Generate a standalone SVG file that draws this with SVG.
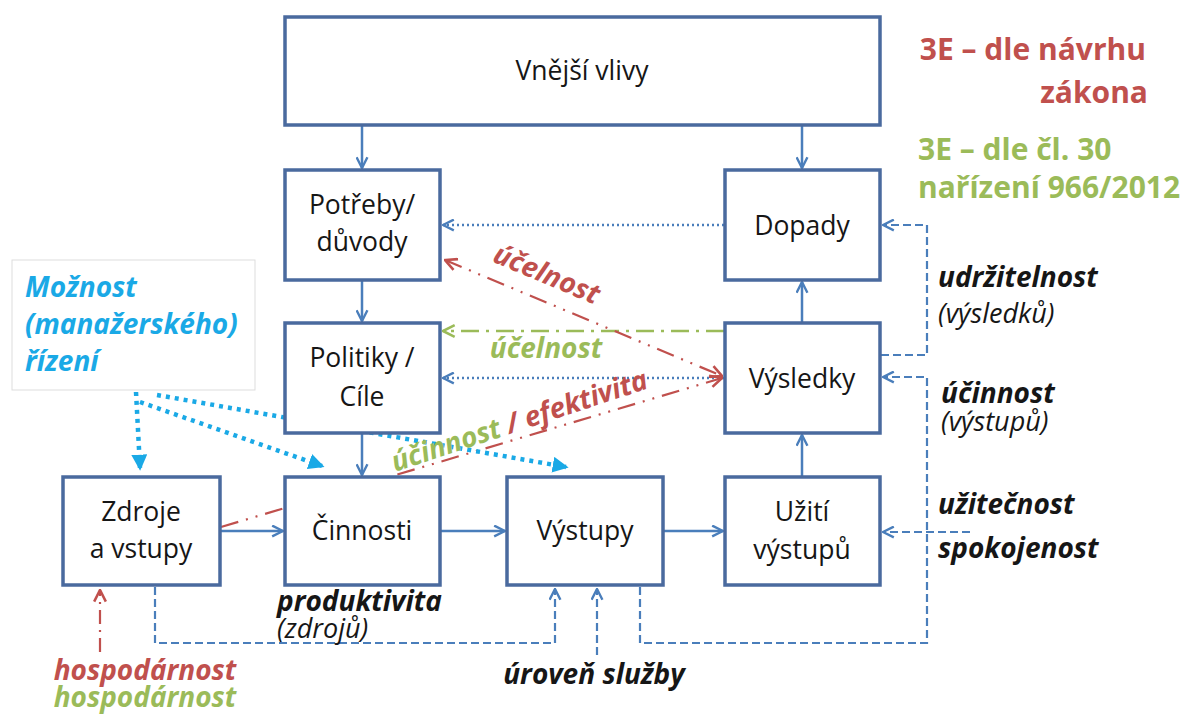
<svg xmlns="http://www.w3.org/2000/svg" width="1188" height="715" viewBox="0 0 1188 715">
<style>
.box{fill:#fff;stroke:#4a6a9e;stroke-width:3.5}
.t{font-family:"Open Sans",Lato,sans-serif;font-size:26.5px;fill:#161616;text-anchor:middle}
.sol{stroke:#4a7ebb;stroke-width:2.5;fill:none}
.dot{stroke:#4a7ebb;stroke-width:2.5;fill:none;stroke-dasharray:2 3}
.dash{stroke:#4a7ebb;stroke-width:2.2;fill:none;stroke-dasharray:8 4}
.red{stroke:#c0504d;stroke-width:2.2;fill:none;stroke-dasharray:18 8 2 8 2 8}
.grn{stroke:#9bbb59;stroke-width:2.5;fill:none;stroke-dasharray:18 7 3 7}
.cy{stroke:#1aa9e6;stroke-width:4.5;fill:none;stroke-dasharray:4 5}
.bi{font-family:"Open Sans",Lato,sans-serif;font-weight:bold;font-style:italic;font-size:28px}
.it{font-family:"Open Sans",Lato,sans-serif;font-style:italic;font-size:27px}
.b{font-family:"Open Sans",Lato,sans-serif;font-weight:bold;font-size:30px}
</style>
<defs>
<marker id="ab" viewBox="0 0 12 12" refX="11" refY="6" markerWidth="13" markerHeight="13" markerUnits="userSpaceOnUse" orient="auto-start-reverse"><path d="M1,1 L11,6 L1,11" fill="none" stroke="#4a7ebb" stroke-width="2.2"/></marker>
<marker id="ar" viewBox="0 0 12 12" refX="11" refY="6" markerWidth="14" markerHeight="14" markerUnits="userSpaceOnUse" orient="auto-start-reverse"><path d="M1,1 L11,6 L1,11" fill="none" stroke="#c0504d" stroke-width="2.2"/></marker>
<marker id="ag" viewBox="0 0 12 12" refX="11" refY="6" markerWidth="14" markerHeight="14" markerUnits="userSpaceOnUse" orient="auto-start-reverse"><path d="M1,1 L11,6 L1,11" fill="none" stroke="#9bbb59" stroke-width="2.2"/></marker>
<marker id="ac" viewBox="0 0 12 12" refX="10" refY="6" markerWidth="16" markerHeight="16" markerUnits="userSpaceOnUse" orient="auto"><path d="M0,0 L12,6 L0,12 Z" fill="#1aa9e6"/></marker>
</defs>
<rect width="1188" height="715" fill="#fff"/>

<g id="connectors">
<path class="sol" d="M362,126 V168" marker-end="url(#ab)"/>
<path class="sol" d="M802,126 V168" marker-end="url(#ab)"/>
<path class="sol" d="M362,281 V321" marker-end="url(#ab)"/>
<path class="sol" d="M362,434 V475" marker-end="url(#ab)"/>
<path class="sol" d="M221,531 H283" marker-end="url(#ab)"/>
<path class="sol" d="M441,531 H505" marker-end="url(#ab)"/>
<path class="sol" d="M664,531 H723" marker-end="url(#ab)"/>
<path class="sol" d="M802,476 V435" marker-end="url(#ab)"/>
<path class="sol" d="M802,322 V282" marker-end="url(#ab)"/>
<path class="dot" d="M724,225 H443" marker-end="url(#ab)"/>
<path class="dot" d="M724,378 H443" marker-end="url(#ab)"/>
<path class="grn" d="M724,331 H443" marker-end="url(#ag)"/>
<path class="red" d="M445,260 L722,376" marker-start="url(#ar)" marker-end="url(#ar)"/>
<path class="red" d="M221,527 L722,378" marker-end="url(#ar)"/>
<path class="cy" d="M136,392 L140,468" marker-end="url(#ac)"/>
<path class="cy" d="M140,402 L322,466" marker-end="url(#ac)"/>
<path class="cy" d="M157,395 L566,467" marker-end="url(#ac)"/>
<path class="dash" d="M881,355 H927 V225 H883" marker-end="url(#ab)"/>
<path class="dash" d="M640,587 V643 H927 V377 H883" marker-end="url(#ab)"/>
<path class="dash" d="M970,532 H883" marker-end="url(#ab)"/>
<path class="dash" d="M155,587 V643 H555 V589" marker-end="url(#ab)"/>
<path class="dash" d="M597,655 V589" marker-end="url(#ab)"/>
<path class="red" d="M100,652 V590" marker-end="url(#ar)" style="stroke-dasharray:14 6 2 6"/>
</g>

<g id="vnejsi"><rect class="box" x="285" y="17" width="595" height="108"/><text class="t" x="582" y="80">Vnější vlivy</text></g>
<g id="potreby"><rect class="box" x="285" y="170" width="155" height="110"/><text class="t" x="362" y="214">Potřeby/</text><text class="t" x="362" y="251">důvody</text></g>
<g id="dopady"><rect class="box" x="725" y="170" width="155" height="110"/><text class="t" x="802" y="235">Dopady</text></g>
<g id="politiky"><rect class="box" x="285" y="323" width="155" height="110"/><text class="t" x="362" y="367">Politiky /</text><text class="t" x="362" y="406">Cíle</text></g>
<g id="vysledky"><rect class="box" x="725" y="323" width="155" height="110"/><text class="t" x="802" y="388">Výsledky</text></g>
<g id="zdroje"><rect class="box" x="63" y="477" width="157" height="108"/><text class="t" x="141" y="521">Zdroje</text><text class="t" x="141" y="558">a vstupy</text></g>
<g id="cinnosti"><rect class="box" x="285" y="477" width="155" height="108"/><text class="t" x="362" y="540">Činnosti</text></g>
<g id="vystupy"><rect class="box" x="507" y="477" width="156" height="108"/><text class="t" x="585" y="540">Výstupy</text></g>
<g id="uziti"><rect class="box" x="725" y="477" width="155" height="108"/><text class="t" x="802" y="521">Užití</text><text class="t" x="802" y="559">výstupů</text></g>

<g id="moznost"><rect x="12" y="260" width="243" height="130" fill="#fff" stroke="#dddddd" stroke-width="1"/>
<text class="bi" x="25" y="297" fill="#1aa9e6">Možnost</text>
<text class="bi" x="25" y="334" fill="#1aa9e6">(manažerského)</text>
<text class="bi" x="25" y="371" fill="#1aa9e6">řízení</text></g>

<g id="labels">
<text class="bi" fill="#c0504d" transform="translate(543,283) rotate(22.7)" text-anchor="middle">účelnost</text>
<text class="bi" fill="#9bbb59" x="546" y="358" text-anchor="middle">účelnost</text>
<text class="bi" transform="translate(395,472) rotate(-18.3)"><tspan fill="#9bbb59">účinnost</tspan><tspan fill="#c0504d"> / efektivita</tspan></text>
<text class="bi" x="277" y="611" fill="#161616">produktivita</text>
<text class="it" x="277" y="638" fill="#161616">(zdrojů)</text>
<text class="bi" x="594" y="684" fill="#161616" text-anchor="middle">úroveň služby</text>
<text class="bi" x="145" y="680" fill="#c0504d" text-anchor="middle">hospodárnost</text>
<text class="bi" x="145" y="707" fill="#9bbb59" text-anchor="middle">hospodárnost</text>
<text class="bi" x="938" y="287" fill="#161616">udržitelnost</text>
<text class="it" x="938" y="323" fill="#161616">(výsledků)</text>
<text class="bi" x="941" y="403" fill="#161616">účinnost</text>
<text class="it" x="941" y="431" fill="#161616">(výstupů)</text>
<text class="bi" x="938" y="514" fill="#161616">užitečnost</text>
<text class="bi" x="938" y="558" fill="#161616">spokojenost</text>
<text class="b" x="1146" y="60" fill="#c0504d" text-anchor="end">3E – dle návrhu</text>
<text class="b" x="1148" y="103" fill="#c0504d" text-anchor="end">zákona</text>
<text class="b" x="918" y="160" fill="#9bbb59">3E – dle čl. 30</text>
<text class="b" x="918" y="198" fill="#9bbb59">nařízení 966/2012</text>
</g>
</svg>
